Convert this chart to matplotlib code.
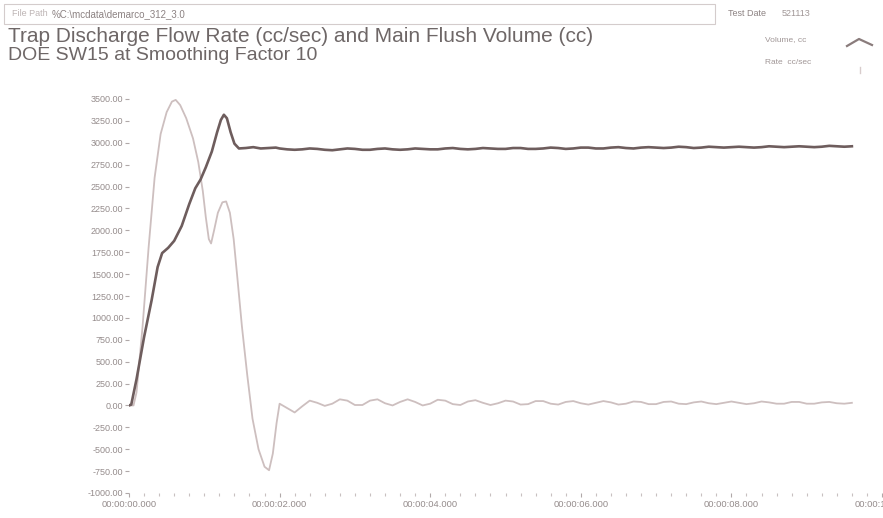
import matplotlib.pyplot as plt
from matplotlib.lines import Line2D
from matplotlib.patches import Rectangle
from matplotlib.ticker import MultipleLocator, FuncFormatter

plt.rcParams['font.family'] = ['Liberation Sans', 'DejaVu Sans']

# Data (time in seconds)
vol_t = [0.00, 0.03, 0.10, 0.20, 0.30, 0.38, 0.44, 0.52, 0.60, 0.70, 0.80, 0.88, 0.95,
         1.02, 1.10, 1.17, 1.22, 1.26, 1.30, 1.35, 1.40, 1.46, 1.55, 1.65, 1.75, 1.85, 1.95]
vol_v = [0, 10, 300, 780, 1200, 1580, 1740, 1800, 1880, 2050, 2300, 2480, 2580,
         2720, 2900, 3120, 3260, 3320, 3280, 3120, 2990, 2935, 2940, 2950, 2935, 2940, 2945]

rate_t = [0.00, 0.06, 0.10, 0.18, 0.26, 0.34, 0.42, 0.50, 0.57, 0.62, 0.68, 0.76, 0.85,
          0.92, 0.98, 1.02, 1.06, 1.09, 1.13, 1.18, 1.24, 1.29, 1.34, 1.39, 1.44, 1.50,
          1.57, 1.64, 1.72, 1.80, 1.86, 1.91, 1.96]
rate_v = [0, 0, 150, 900, 1800, 2600, 3100, 3350, 3470, 3490, 3430, 3280, 3050,
          2780, 2450, 2150, 1900, 1850, 2000, 2200, 2320, 2330, 2200, 1900, 1450, 900,
          350, -150, -500, -700, -740, -550, -200]

# steady-state part, sampled every 0.1 s from 2.0 to 9.6
tail_t = [2.0, 2.1, 2.2, 2.3, 2.4, 2.5, 2.6, 2.7, 2.8, 2.9,
          3.0, 3.1, 3.2, 3.3, 3.4, 3.5, 3.6, 3.7, 3.8, 3.9,
          4.0, 4.1, 4.2, 4.3, 4.4, 4.5, 4.6, 4.7, 4.8, 4.9,
          5.0, 5.1, 5.2, 5.3, 5.4, 5.5, 5.6, 5.7, 5.8, 5.9,
          6.0, 6.1, 6.2, 6.3, 6.4, 6.5, 6.6, 6.7, 6.8, 6.9,
          7.0, 7.1, 7.2, 7.3, 7.4, 7.5, 7.6, 7.7, 7.8, 7.9,
          8.0, 8.1, 8.2, 8.3, 8.4, 8.5, 8.6, 8.7, 8.8, 8.9,
          9.0, 9.1, 9.2, 9.3, 9.4, 9.5, 9.6]
rate_tail = [20, -30, -80, -10, 55, 30, -5, 20, 70, 55,
             5, 5, 55, 70, 25, 0, 40, 70, 40, 0,
             20, 65, 55, 15, 5, 45, 60, 30, 5, 25,
             55, 45, 10, 15, 50, 50, 20, 10, 40, 50,
             25, 10, 30, 50, 35, 10, 20, 45, 40, 15,
             15, 40, 45, 20, 15, 35, 45, 25, 15, 30,
             45, 30, 15, 25, 45, 35, 20, 20, 40, 40,
             20, 20, 35, 40, 25, 20, 30]
vol_tail = [2935, 2925, 2920, 2925, 2935, 2930, 2920, 2915, 2925, 2935,
            2930, 2920, 2920, 2930, 2935, 2925, 2920, 2925, 2935, 2930,
            2925, 2925, 2935, 2940, 2930, 2925, 2930, 2940, 2935, 2930,
            2930, 2940, 2940, 2930, 2930, 2935, 2945, 2940, 2930, 2935,
            2945, 2945, 2935, 2935, 2945, 2950, 2940, 2935, 2945, 2950,
            2945, 2940, 2945, 2955, 2950, 2940, 2945, 2955, 2950, 2945,
            2950, 2955, 2950, 2945, 2950, 2960, 2955, 2950, 2955, 2960,
            2955, 2950, 2955, 2965, 2960, 2955, 2960]

yticks = [3500, 3250, 3000, 2750, 2500, 2250, 2000, 1750, 1500, 1250, 1000,
          750, 500, 250, 0, -250, -500, -750, -1000]
xticks = [0, 2, 4, 6, 8, 10]

txt = '#958c8c'
vol_color = '#6e5d5d'
rate_color = '#cdbfbf'

W, H = 883, 518
fig = plt.figure(figsize=(W / 100, H / 100), dpi=100)


def fx(px):
    return px / W


def fy(py):
    return 1 - py / H


ax = fig.add_axes([fx(129), fy(493), fx(753), 394 / H])

ax.plot(rate_t + tail_t, rate_v + rate_tail, color=rate_color, lw=1.3)
ax.plot(vol_t + tail_t, vol_v + vol_tail, color=vol_color, lw=1.9)

ax.set_xlim(0, 10)
ax.set_ylim(-1000, 3500)
for s in ax.spines.values():
    s.set_visible(False)

ax.set_yticks(yticks)
ax.yaxis.set_major_formatter(FuncFormatter(lambda v, p: f'{v:.2f}'))
ax.tick_params(axis='y', length=3, width=0.8, color='#b0a8a8', labelsize=6.5,
               labelcolor=txt, pad=1)

ax.set_xticks(xticks)
ax.xaxis.set_minor_locator(MultipleLocator(0.2))
ax.xaxis.set_major_formatter(FuncFormatter(lambda v, p: f'00:00:{int(v):02d}.000'))
ax.tick_params(axis='x', which='major', length=3, width=0.8, color='#b0a8a8',
               labelsize=6.8, labelcolor=txt, pad=2)
ax.tick_params(axis='x', which='minor', length=2, width=0.8, color='#c8c0c0')

# header
fig.patches.append(Rectangle((fx(4), fy(24)), fx(711), 20 / H, transform=fig.transFigure,
                             fill=False, edgecolor='#d4cccc', lw=0.8))
fig.text(fx(12), fy(14), 'File Path', fontsize=6.5, color='#bdb4b4', va='center')
fig.text(fx(52), fy(14), '%C:\\mcdata\\demarco_312_3.0', fontsize=7, color='#8c8282',
         va='center')
fig.text(fx(728), fy(14), 'Test Date', fontsize=6.5, color='#8c8282', va='center')
fig.text(fx(782), fy(14), '521113', fontsize=6.5, color='#a09696', va='center')

fig.text(fx(8), fy(36), 'Trap Discharge Flow Rate (cc/sec) and Main Flush Volume (cc)',
         fontsize=15, color='#6e6767', va='center')
fig.text(fx(8), fy(55), 'DOE SW15 at Smoothing Factor 10',
         fontsize=14, color='#6e6767', va='center')

# legend
fig.text(fx(765), fy(40), 'Volume, cc', fontsize=6, color='#a09696', va='center')
fig.text(fx(765), fy(62), 'Rate  cc/sec', fontsize=6, color='#a09696', va='center')
fig.add_artist(Line2D([fx(847), fx(859), fx(872)], [fy(46), fy(39), fy(45)],
                      color='#8a7c7c', lw=1.6))
fig.add_artist(Line2D([fx(860), fx(860)], [fy(67), fy(73)], color='#d8cccc', lw=1))

fig.savefig('out.png', dpi=100, facecolor='white')
